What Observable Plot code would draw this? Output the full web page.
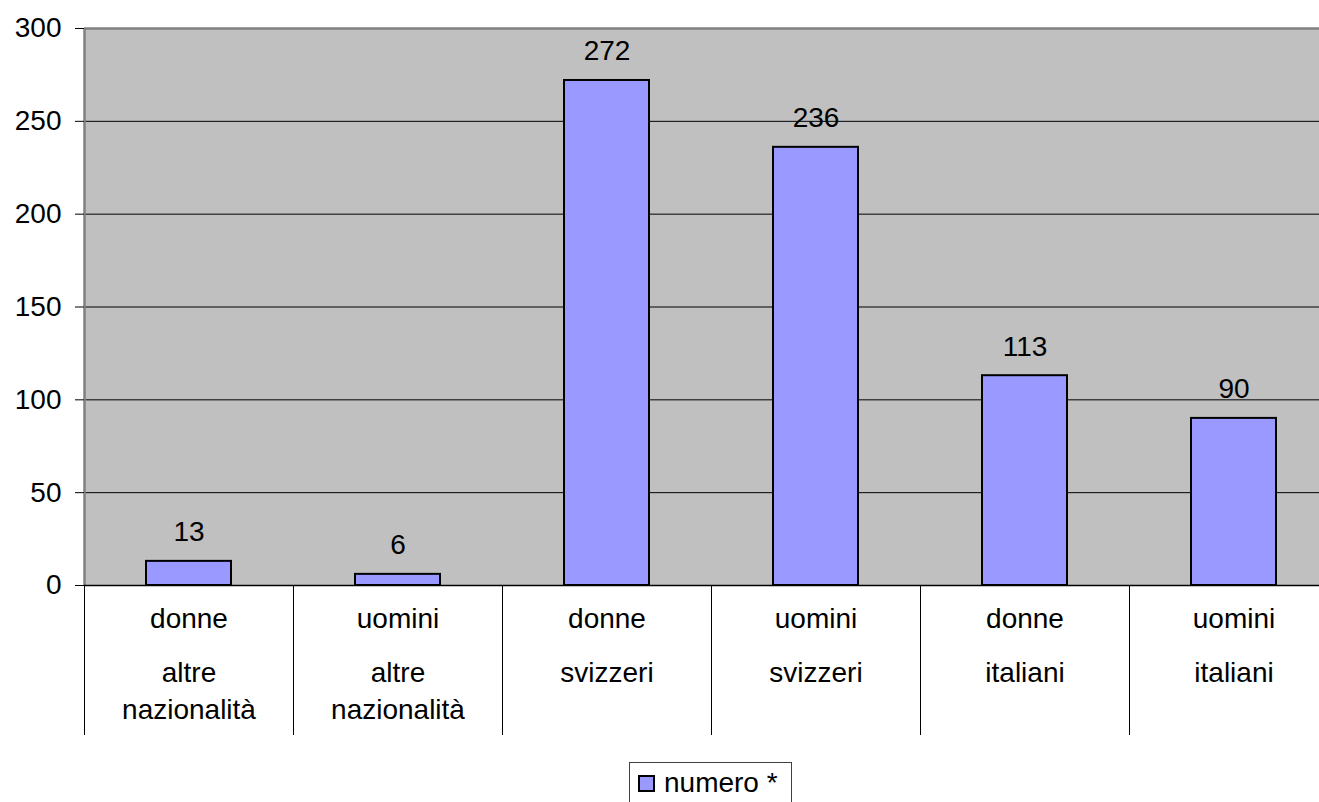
<!DOCTYPE html>
<html>
<head>
<meta charset="utf-8">
<script src="https://cdn.jsdelivr.net/npm/d3@7"></script>
<script src="https://cdn.jsdelivr.net/npm/@observablehq/plot@0.6"></script>
<style>
  html, body { margin: 0; padding: 0; background: #fff; overflow: hidden; width: 1319px; height: 802px; }
  body { font-family: "Liberation Sans", Arial, sans-serif; }
  #chart { width: 1319px; overflow: hidden; }
  #chart svg { display: block; overflow: hidden; }
  #legend {
    position: relative;
    margin-left: 629px;
    width: 163px;
    height: 48px;
    border: 1px solid #404040;
    box-sizing: border-box;
  }
  #legend .sw {
    position: absolute; left: 8px; top: 12px;
    width: 13px; height: 13px;
    background: #9999ff; border: 2px solid #000;
  }
  #legend .lb {
    position: absolute; left: 34px; top: 6px;
    font-size: 28px; line-height: 28px; color: #000; white-space: nowrap;
  }
</style>
</head>
<body>
<div id="chart"></div>
<div id="legend"><div class="sw"></div><div class="lb">numero *</div></div>
<script>
const sesso = ["donne", "uomini", "donne", "uomini", "donne", "uomini"];
const nazionalita = ["altre nazionalità", "altre nazionalità", "svizzeri", "svizzeri", "italiani", "italiani"];
const valori = [13, 6, 272, 236, 113, 90];
const yTicks = [0, 50, 100, 150, 200, 250, 300];
const gridTicks = [50, 100, 150, 200, 250];
const serie = "numero *";

const data = sesso.map((s, i) => {
  const parts = nazionalita[i].split(" ");
  return {
    key: s + " " + nazionalita[i],
    sesso: s,
    naz1: parts[0],
    naz2: parts.slice(1).join(" "),
    value: valori[i]
  };
});
const keys = data.map(d => d.key);

const W = 1319, ML = 84, MR = -19;
const step = (W - ML - MR) / keys.length;
const font = "Liberation Sans, Arial, sans-serif";
const fs = 28;

const chart = Plot.plot({
  width: W,
  height: 762,
  marginLeft: ML,
  marginRight: MR,
  marginTop: 28,
  marginBottom: 177,
  style: { fontFamily: font, fontSize: fs + "px", background: "#fff", color: "#000" },
  x: { domain: keys, padding: 0, axis: null },
  y: { domain: [0, 300], axis: null },
  marks: [
    Plot.frame({ fill: "#c0c0c0" }),
    Plot.ruleY(gridTicks, { stroke: "#000", strokeWidth: 1 }),
    Plot.ruleY([300], { stroke: "#808080", strokeWidth: 2.5 }),
    Plot.ruleX(data.slice(0, 1), { x: "key", dx: -step / 2, stroke: "#808080", strokeWidth: 2.5 }),
    Plot.ruleY([0], { stroke: "#000", strokeWidth: 1.5 }),
    Plot.axisY({ ticks: yTicks, tickSize: 9, tickPadding: 14, fontSize: fs, stroke: "#000", fill: "#000", label: null }),
    Plot.ruleX(data, { x: "key", dx: -step / 2, insetTop: 557, insetBottom: -150, stroke: "#000", strokeWidth: 1 }),
    Plot.barY(data, { x: "key", y: "value", fill: "#9999ff", stroke: "#000", strokeWidth: 2, insetLeft: 62, insetRight: 62 }),
    Plot.text(data, { x: "key", y: "value", text: d => String(d.value), dy: -29, fontSize: fs, fill: "#000" }),
    Plot.text(data, { x: "key", text: "sesso", frameAnchor: "bottom", dy: 42, fontSize: fs, fill: "#000" }),
    Plot.text(data, { x: "key", text: "naz1", frameAnchor: "bottom", dy: 96, fontSize: fs, fill: "#000" }),
    Plot.text(data, { x: "key", text: "naz2", frameAnchor: "bottom", dy: 133, fontSize: fs, fill: "#000" })
  ]
});
document.getElementById("chart").appendChild(chart);
</script>
</body>
</html>
